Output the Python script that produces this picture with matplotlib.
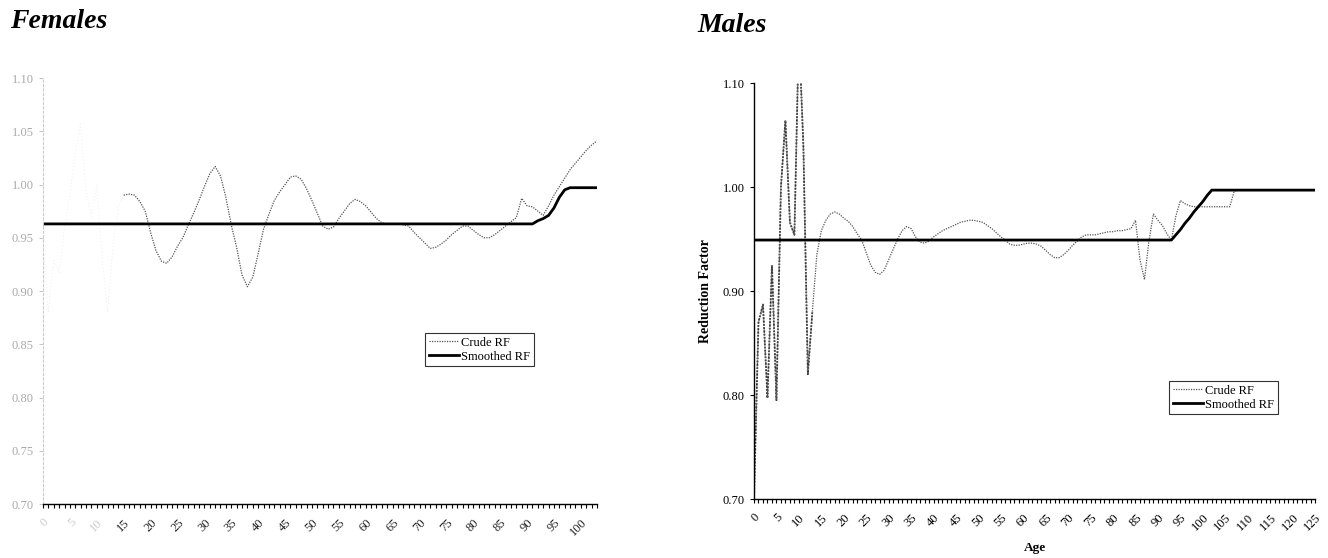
import matplotlib
matplotlib.use("Agg")
import matplotlib.pyplot as plt
import numpy as np

# ---------------- data ----------------
female_ages = list(range(0, 104))
female_crude = [0.950, 0.880, 0.930, 0.917, 0.960, 0.990, 1.030, 1.057, 0.993, 0.970,
                1.000, 0.930, 0.880, 0.940, 0.980,
                0.990, 0.991, 0.990, 0.984, 0.975, 0.955, 0.938, 0.928, 0.926, 0.932,
                0.942, 0.950, 0.962, 0.973, 0.985, 0.998, 1.010, 1.017, 1.008, 0.988,
                0.962, 0.941, 0.915, 0.904, 0.913, 0.935, 0.958, 0.972, 0.985, 0.993,
                1.000, 1.007, 1.008, 1.005, 0.996, 0.985, 0.973, 0.961, 0.958, 0.960,
                0.968, 0.975, 0.982, 0.986, 0.984, 0.980, 0.974, 0.968, 0.964, 0.963,
                0.963, 0.963, 0.962, 0.961, 0.955, 0.950, 0.945, 0.940, 0.941, 0.944,
                0.948, 0.953, 0.957, 0.961, 0.961, 0.957, 0.953, 0.950, 0.950, 0.953,
                0.957, 0.961, 0.965, 0.969, 0.987, 0.980, 0.979, 0.975, 0.971, 0.980,
                0.990, 0.998, 1.006, 1.014, 1.020, 1.026, 1.032, 1.037, 1.041]
female_smooth = [0.963] * 92 + [0.966, 0.968, 0.971, 0.978, 0.988, 0.995,
                                0.997, 0.997, 0.997, 0.997, 0.997, 0.997]
female_faint_until = 15  # early part of the crude curve is faded in the scan

male_ages = list(range(0, 126))
male_crude = [0.700, 0.870, 0.887, 0.797, 0.925, 0.795, 1.000, 1.064, 0.966, 0.954,
              1.150, 1.040, 0.820, 0.880, 0.935, 0.958, 0.968, 0.974, 0.976, 0.974,
              0.970, 0.967, 0.962, 0.955, 0.949, 0.937, 0.925, 0.918, 0.916, 0.920,
              0.930, 0.940, 0.950, 0.958, 0.962, 0.960, 0.952, 0.947, 0.946, 0.948,
              0.952, 0.955, 0.958, 0.960, 0.962, 0.964, 0.966, 0.967, 0.968, 0.968,
              0.967, 0.966, 0.963, 0.960, 0.956, 0.952, 0.949, 0.945, 0.944, 0.944,
              0.945, 0.946, 0.946, 0.945, 0.943, 0.939, 0.935, 0.932, 0.932, 0.935,
              0.939, 0.944, 0.948, 0.952, 0.954, 0.954, 0.954, 0.955, 0.956, 0.957,
              0.957, 0.958, 0.958, 0.959, 0.960, 0.968, 0.930, 0.911, 0.948, 0.974,
              0.968, 0.963, 0.955, 0.949, 0.972, 0.987, 0.984, 0.982, 0.981, 0.981,
              0.981, 0.981, 0.981, 0.981, 0.981, 0.981, 0.981, 0.996, 0.997, 0.997,
              0.997, 0.997, 0.997, 0.997, 0.997, 0.997, 0.997, 0.997, 0.997, 0.997,
              0.997, 0.997, 0.997, 0.997, 0.997, 0.997]
male_smooth = [0.949] * 94 + [0.954, 0.959, 0.965, 0.970, 0.976, 0.981, 0.986, 0.992,
                              0.997] + [0.997] * 23
male_dark_until = 13  # early part of the crude curve is printed darker

female_yticks = [0.70, 0.75, 0.80, 0.85, 0.90, 0.95, 1.00, 1.05, 1.10]
male_yticks = [0.70, 0.80, 0.90, 1.00, 1.10]
female_xticks = list(range(0, 101, 5))
male_xticks = list(range(0, 126, 5))

# ---------------- figure ----------------
plt.rcParams['font.family'] = ['Liberation Serif', 'DejaVu Serif']
W, H = 1328, 558
fig = plt.figure(figsize=(W / 100, H / 100), dpi=100)


def fig_rect(x0, y0, x1, y1):
    return [x0 / W, 1 - y1 / H, (x1 - x0) / W, (y1 - y0) / H]


crude_style = dict(color='#555555', linewidth=0.9, linestyle=(0, (1, 1)))
smooth_style = dict(color='black', linewidth=2.0)
leg_kw = dict(fontsize=9, frameon=True, fancybox=False, edgecolor='black',
              handlelength=2.4, borderpad=0.3, labelspacing=0.15, handletextpad=0.2,
              borderaxespad=0)

# ----- Females -----
axf = fig.add_axes(fig_rect(43, 78, 597, 504))
fa = np.array(female_ages)
fc = np.array(female_crude)
axf.plot(fa[:female_faint_until + 1], fc[:female_faint_until + 1],
         color='#e8e8e8', linewidth=0.6, linestyle=(0, (1, 3)))
axf.plot(fa[female_faint_until:], fc[female_faint_until:], label='Crude RF', **crude_style)
axf.plot(female_ages, female_smooth, label='Smoothed RF', **smooth_style)
axf.set_xlim(0, 103)
axf.set_ylim(0.70, 1.10)
axf.set_yticks(female_yticks)
axf.set_yticklabels([f"{v:.2f}" for v in female_yticks], color='#aaaaaa', fontsize=9)
axf.set_xticks(female_xticks)
axf.set_xticks(female_ages, minor=True)
axf.set_xticklabels([str(v) for v in female_xticks], rotation=45, ha='right', va='top',
                    rotation_mode='anchor', fontsize=9)
for lab, v in zip(axf.get_xticklabels(), female_xticks):
    lab.set_color('#cccccc' if v < 15 else '#222222')
axf.tick_params(axis='x', which='both', direction='out', length=3, width=0.8, pad=6)
axf.tick_params(axis='y', direction='out', length=3, width=0.6, color='#bbbbbb')
for s in ['top', 'right']:
    axf.spines[s].set_visible(False)
axf.spines['left'].set_color('#cccccc')
axf.spines['left'].set_linestyle((0, (2, 2)))
axf.spines['bottom'].set_linewidth(1.0)
axf.legend(loc='upper left', bbox_to_anchor=(425 / W, 1 - 333 / H),
           bbox_transform=fig.transFigure, **leg_kw).get_frame().set_linewidth(0.8)

fig.text(10 / W, 1 - 9 / H, 'Females', fontsize=20, fontweight='bold', fontstyle='italic',
         ha='left', va='top')

# ----- Males -----
axm = fig.add_axes(fig_rect(754, 83, 1315, 499))
ma = np.array(male_ages)
mc = np.array(male_crude)
axm.plot(ma[:male_dark_until + 1], mc[:male_dark_until + 1], color='#333333',
         linewidth=1.3, linestyle=(0, (1, 0.8)))
axm.plot(male_ages, male_crude, label='Crude RF', **crude_style)
axm.plot(male_ages, male_smooth, label='Smoothed RF', **smooth_style)
axm.set_xlim(0, 125)
axm.set_ylim(0.70, 1.10)
axm.set_yticks(male_yticks)
axm.set_yticklabels([f"{v:.2f}" for v in male_yticks], fontsize=9)
axm.set_xticks(male_xticks)
axm.set_xticks(male_ages, minor=True)
axm.set_xticklabels([str(v) for v in male_xticks], rotation=45, ha='right', va='top',
                    rotation_mode='anchor', fontsize=9)
axm.tick_params(axis='x', which='both', direction='out', length=3, width=0.8, pad=6)
axm.tick_params(axis='y', direction='out', length=3, width=0.8)
for s in ['top', 'right']:
    axm.spines[s].set_visible(False)
axm.spines['left'].set_linewidth(1.0)
axm.spines['bottom'].set_linewidth(1.0)
axm.set_ylabel('Reduction Factor', fontsize=10, fontweight='bold', labelpad=8)
axm.set_xlabel('Age', fontsize=9.5, fontweight='bold', labelpad=6)
axm.legend(loc='upper left', bbox_to_anchor=(1169 / W, 1 - 381 / H),
           bbox_transform=fig.transFigure, **leg_kw).get_frame().set_linewidth(0.8)

fig.text(697 / W, 1 - 13 / H, 'Males', fontsize=20, fontweight='bold', fontstyle='italic',
         ha='left', va='top')

fig.savefig('out.png', dpi=100)
